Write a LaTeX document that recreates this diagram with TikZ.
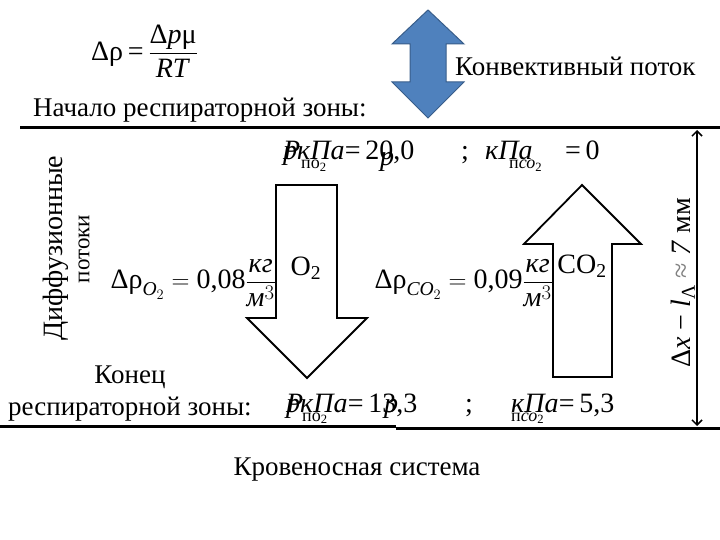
\documentclass[tikz,border=0pt]{standalone}
\usepackage{fontspec}
\setmainfont{Liberation Serif}
\usepackage{amsmath}
\usetikzlibrary{arrows.meta, positioning}
\definecolor{convblue}{HTML}{4F81BD}
\definecolor{convedge}{HTML}{385D8A}
\newcommand{\fsz}[1]{\fontsize{#1}{#1}\selectfont}

\begin{document}
\begin{tikzpicture}[x=1pt, y=-1pt,
      lbl/.style={font=\fsz{27}, inner sep=0pt},
      frm/.style={font=\fsz{28}, inner sep=0pt},
      subs/.style={font=\fsz{18}, inner sep=0pt},
      flow/.style={draw, line width=1.8pt, fill=white, line join=miter},
      conv/.style={draw=convedge, fill=convblue, line width=1pt, line join=miter},
      zone/.style={line width=3pt},
      dim/.style={{Straight Barb[length=5pt]}-{Straight Barb[length=5pt]}, line width=1.5pt}
    ]
    \useasboundingbox (0,0) rectangle (720,540);

    % Формула плотности
    \node[frm, anchor=west] (rho) at (91,51)
      {Δρ\,=\,$\dfrac{\text{Δ\textit{p}μ}}{\text{\textit{RT}}}$};

    % Конвективный поток
    \draw[conv] (428,10) -- (464,44) -- (446,44) -- (446,82) -- (464,82) -- (428,118)
      -- (392,82) -- (410,82) -- (410,44) -- (392,44) -- cycle;
    \node[lbl, anchor=west] (conv) at (455,66) {Конвективный поток};

    % Границы зоны
    \coordinate (topL) at (20,128);
    \coordinate (topR) at (720,128);
    \coordinate (botL) at (0,426);
    \coordinate (botM) at (396,426);
    \coordinate (botN) at (396,428);
    \coordinate (botR) at (720,428);
    \draw[zone] (topL) -- (topR);
    \draw[zone] (botL) -- (botM);
    \draw[zone] (botN) -- (botR);
    \node[lbl, anchor=base west] (start) at (33,117) {Начало респираторной зоны:};
    \node[lbl] (endA) at (130,377) {Конец};
    \node[lbl, anchor=base west] (endB) at (8,415) {респираторной зоны:};
    \node[lbl] (blood) at (357,470) {Кровеносная система};

    % Давления в начале зоны
    \node[frm, anchor=base west] (pA) at (283,160) {\textit{ркПа}};
    \node[frm, anchor=base west] at (283,160) {\textit{Р}};
    \node[subs, anchor=base west] at (301,169) {по\textsubscript{2}};
    \node[frm, anchor=base west] (pAv) at (pA.base east) {=\,20,0};
    \node[frm, anchor=base west] at (380,166) {\textit{р}};
    \node[frm, anchor=base west] (semiA) at (461,160) {;};
    \node[frm, anchor=base west] (qA) at (485,160) {\textit{кПа}};
    \node[subs, anchor=base west] at (509,169) {п\textit{со}\textsubscript{2}};
    \node[frm, anchor=base west] (qAv) at (565,160) {=\,0};

    % Давления в конце зоны
    \node[frm, anchor=base west] (pB) at (286,412) {\textit{ркПа}};
    \node[frm, anchor=base west] at (286,412) {\textit{Р}};
    \node[subs, anchor=base west] at (302,421) {по\textsubscript{2}};
    \node[frm, anchor=base west] (pBv) at (pB.base east) {=\,13,3};
    \node[frm, anchor=base west] at (384,412) {\textit{р}};
    \node[frm, anchor=base west] (semiB) at (465,412) {;};
    \node[frm, anchor=base west] (qB) at (511,412) {\textit{кПа}};
    \node[subs, anchor=base west] at (511,421) {п\textit{со}\textsubscript{2}};
    \node[frm, anchor=base west] (qBv) at (qB.base east) {=\,5,3};

    % Диффузионные потоки
    \draw[flow] (276,185) -- (337,185) -- (337,318) -- (367,318) -- (307,378)
      -- (247,318) -- (276,318) -- cycle;
    \draw[flow] (553,377) -- (612,377) -- (612,244) -- (641,244) -- (582,185)
      -- (524,244) -- (553,244) -- cycle;
    \node[frm] (otwo) at (306,268) {O\textsubscript{2}};
    \node[frm] (cotwo) at (582,266) {CO\textsubscript{2}};
    \node[frm, anchor=east] (rhoO) at (276,283)
      {$\text{Δρ}_{\textit{O}_2} = \text{0,08}\dfrac{\textit{кг}}{\textit{м}^3}$};
    \node[frm, anchor=east] (rhoC) at (553,283)
      {$\text{Δρ}_{\textit{CO}_2} = \text{0,09}\dfrac{\textit{кг}}{\textit{м}^3}$};
    \node[font=\fsz{28}, inner sep=0pt, rotate=90] (diff) at (56,248) {Диффузионные};
    \node[font=\fsz{23}, inner sep=0pt, rotate=90] (flows) at (84,249) {потоки};

    % Толщина зоны
    \coordinate (dimT) at (697,130);
    \coordinate (dimB) at (697,426);
    \draw[dim] (dimT) -- (dimB);
    \node[font=\fsz{28}, inner sep=0pt, rotate=90] (dimlbl) at (683,283)
      {Δ\textit{x} − \textit{l}\textsubscript{Λ} {\color{gray}≈} \textit{7} мм};
\end{tikzpicture}
\end{document}
